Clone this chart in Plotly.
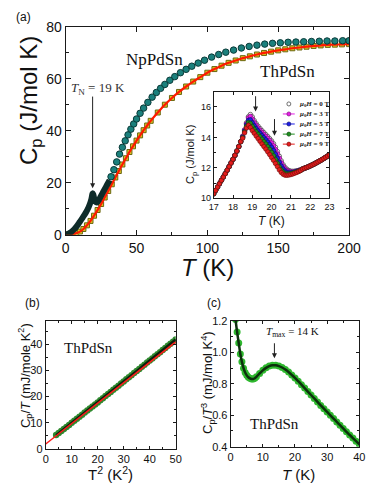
import plotly.graph_objects as go

SANS = "Arial, Liberation Sans, sans-serif"
SERIF = "Times New Roman, Liberation Serif, serif"

# ---- (a) Cp(T) of NpPdSn and ThPdSn
np_low_T = [0, 2, 4, 6, 8, 10, 12, 14, 16, 17, 18, 18.6, 19, 19.4, 20, 20.5, 21, 21.5,
            22, 22.5, 23, 24, 25, 26, 27, 28, 29, 30, 31]
np_low_cp = [0, 0.4, 1.1, 2.1, 3.4, 5.0, 6.6, 8.3, 10.4, 11.7, 13.4, 15.0, 15.9, 15.6, 14.2,
             13.3, 12.8, 12.5, 12.4, 12.6, 13.0, 14.0, 15.0, 16.0, 17.0, 18.0, 19.0, 20.0, 21.0]

np_T = [32, 34, 36, 38, 40, 42, 44, 46, 48, 50, 52.5, 55, 58, 61, 64, 67, 70, 73.5, 77, 81,
        85, 89, 93.5, 98, 103, 108, 113, 118.5, 124, 129.5, 135, 140.5, 146, 151.5, 157,
        162.5, 168, 173.5, 179, 184.5, 190, 195.5, 200]
np_cp = [22.3, 25.0, 28.0, 31.0, 33.6, 36.1, 38.4, 40.6, 42.6, 44.5, 46.7, 48.7, 50.9, 52.9,
         54.7, 56.3, 57.8, 59.4, 60.8, 62.3, 63.6, 64.8, 66.0, 67.1, 68.3, 69.3, 70.2, 71.0,
         71.8, 72.4, 72.9, 73.3, 73.6, 73.8, 74.0, 74.1, 74.2, 74.3, 74.4, 74.5, 74.5, 74.6, 74.6]

th_T = [0, 2.5, 5, 7.5, 10, 12.5, 15, 17.5, 20, 22.5, 25, 27.5, 30, 32.5, 35, 37.5, 40, 42.5,
        45, 47.5, 50, 52.5, 55, 57.5, 60, 65, 70, 75, 80, 85, 90, 95, 100, 105, 110, 115, 120,
        125, 130, 135, 140, 145, 150, 155, 160, 165, 170, 175, 180, 185, 190, 195, 200]
th_cp = [0, 0.05, 0.2, 0.6, 1.2, 2.2, 3.6, 5.3, 7.3, 9.5, 11.8, 14.3, 16.8, 19.4, 22.0, 24.5,
         27.0, 29.4, 31.8, 34.0, 36.2, 38.2, 40.2, 42.0, 43.8, 47.0, 50.0, 52.6, 54.9, 57.0,
         58.9, 60.6, 62.3, 63.7, 65.0, 66.1, 67.0, 67.9, 68.6, 69.3, 69.9, 70.4, 70.9, 71.3,
         71.7, 72.0, 72.3, 72.6, 72.8, 73.0, 73.1, 73.2, 73.3]

# ---- inset: Cp near T_N in fields
inset_T = [17.0, 17.1, 17.2, 17.3, 17.4, 17.5, 17.6, 17.7, 17.8, 17.9, 18.0, 18.1, 18.2, 18.3,
           18.4, 18.5, 18.6, 18.7, 18.8, 18.9, 19.0, 19.1, 19.2, 19.3, 19.4, 19.5, 19.6, 19.7,
           19.8, 19.9, 20.0, 20.1, 20.2, 20.3, 20.4, 20.5, 20.6, 20.7, 20.8, 20.9, 21.0, 21.1,
           21.2, 21.3, 21.4, 21.5, 21.6, 21.7, 21.8, 21.9, 22.0, 22.1, 22.2, 22.3, 22.4, 22.5,
           22.6, 22.7, 22.8, 22.9, 23.0]
rise = [10.30, 10.52, 10.74, 10.96, 11.18, 11.40, 11.62, 11.85, 12.08, 12.32, 12.56, 12.82,
        13.10, 13.40, 13.72]
tail = [11.92, 11.97, 12.02, 12.07, 12.13, 12.19, 12.25, 12.32, 12.39, 12.46, 12.53, 12.61,
        12.69, 12.77, 12.85]
mid_0T = [14.08, 14.50, 14.95, 15.35, 15.50, 15.34, 15.10, 14.90, 14.73, 14.58, 14.44, 14.31,
          14.18, 14.05, 13.91, 13.76, 13.58, 13.35, 13.07, 12.76, 12.46, 12.20, 12.02, 11.90,
          11.82, 11.78, 11.77, 11.78, 11.80, 11.83, 11.87]
mid_3T = [14.06, 14.47, 14.90, 15.28, 15.38, 15.20, 14.98, 14.79, 14.62, 14.47, 14.33, 14.20,
          14.07, 13.94, 13.80, 13.64, 13.45, 13.21, 12.93, 12.63, 12.34, 12.10, 11.93, 11.82,
          11.76, 11.73, 11.73, 11.75, 11.78, 11.82, 11.86]
mid_5T = [14.02, 14.42, 14.82, 15.12, 15.15, 14.96, 14.76, 14.58, 14.42, 14.27, 14.12, 13.98,
          13.84, 13.69, 13.53, 13.35, 13.14, 12.90, 12.64, 12.37, 12.12, 11.92, 11.78, 11.70,
          11.67, 11.67, 11.69, 11.72, 11.76, 11.80, 11.85]
mid_7T = [13.98, 14.36, 14.72, 14.97, 14.92, 14.72, 14.53, 14.36, 14.20, 14.04, 13.88, 13.72,
          13.56, 13.39, 13.21, 13.01, 12.79, 12.55, 12.30, 12.06, 11.86, 11.71, 11.63, 11.60,
          11.60, 11.62, 11.65, 11.69, 11.73, 11.78, 11.83]
mid_9T = [13.95, 14.30, 14.62, 14.80, 14.65, 14.45, 14.27, 14.09, 13.92, 13.74, 13.57, 13.40,
          13.23, 13.05, 12.87, 12.68, 12.49, 12.29, 12.08, 11.87, 11.70, 11.58, 11.52, 11.51,
          11.53, 11.56, 11.60, 11.65, 11.70, 11.76, 11.82]
fields = ["0", "3", "5", "7", "9"]
field_cp = [rise + mid_0T + tail, rise + mid_3T + tail, rise + mid_5T + tail,
            rise + mid_7T + tail, rise + mid_9T + tail]
field_fill = ["#ffffff", "#e51ee5", "#1c1ce8", "#1f8f1f", "#e51c1c"]
field_edge = ["#333333", "#7a107a", "#10106e", "#0f4a0f", "#7a0f0f"]

# ---- (b) Cp/T vs T^2
b_T2 = [4, 5, 6, 7, 8, 9, 10, 11, 12, 13, 14, 15, 16, 17, 18, 19, 20, 21, 22, 23, 24, 25, 26,
        27, 28, 29, 30, 31, 32, 33, 34, 35, 36, 37, 38, 39, 40, 41, 42, 43, 44, 45, 46, 47,
        48, 49, 50]
b_cpT = [5.3, 6.1, 6.9, 7.6, 8.4, 9.2, 10.0, 10.8, 11.6, 12.3, 13.1, 13.9, 14.7, 15.5, 16.2,
         17.0, 17.8, 18.6, 19.4, 20.2, 21.0, 21.8, 22.6, 23.4, 24.2, 25.0, 25.8, 26.6, 27.4,
         28.2, 29.0, 29.8, 30.6, 31.4, 32.2, 33.0, 33.8, 34.6, 35.4, 36.2, 37.0, 37.8, 38.6,
         39.4, 40.2, 41.0, 41.8]
b_fit_T2 = [0, 50]
b_fit = [1.9, 40.9]

# ---- (c) Cp/T^3 vs T
c_T = [1.5, 2.0, 2.5, 3.0, 3.5, 4.0, 4.5, 5.0, 5.5, 6.0, 6.5, 7.0, 7.5, 8.0, 9, 10, 11, 12, 13,
       14, 15, 16, 17, 18, 19, 20, 21, 22, 23, 24, 25, 26, 27, 28, 29, 30, 31, 32, 33, 34, 35,
       36, 37, 38, 39, 40]
c_val = [1.21, 1.13, 1.06, 0.99, 0.94, 0.90, 0.872, 0.854, 0.842, 0.835, 0.831, 0.831, 0.836,
         0.845, 0.866, 0.886, 0.902, 0.913, 0.918, 0.918, 0.913, 0.904, 0.891, 0.875, 0.857,
         0.838, 0.817, 0.795, 0.773, 0.751, 0.729, 0.707, 0.685, 0.663, 0.642, 0.621, 0.600,
         0.579, 0.558, 0.537, 0.516, 0.495, 0.475, 0.455, 0.435, 0.415]

fig = go.Figure()

# (a)
fig.add_trace(go.Scatter(x=th_T, y=th_cp, mode="markers", xaxis="x", yaxis="y",
                         marker=dict(symbol="square", size=5, color="#dcc420",
                                     line=dict(color="#6a6612", width=1))))
fig.add_trace(go.Scatter(x=th_T, y=th_cp, mode="lines", xaxis="x", yaxis="y",
                         line=dict(color="#ff1a00", width=2.2, shape="spline")))
fig.add_trace(go.Scatter(x=np_T, y=np_cp, mode="markers", xaxis="x", yaxis="y",
                         marker=dict(size=6.5, color="#1b807c",
                                     line=dict(color="#0b3a38", width=1))))
fig.add_trace(go.Scatter(x=np_low_T, y=np_low_cp, mode="lines", xaxis="x", yaxis="y",
                         line=dict(color="#0e2b29", width=6, shape="spline")))

# inset
for cp, fc, ec in zip(field_cp, field_fill, field_edge):
    fig.add_trace(go.Scatter(x=inset_T, y=cp, mode="markers", xaxis="x2", yaxis="y2",
                             marker=dict(size=4.5, color=fc, line=dict(color=ec, width=0.7))))

# (b)
fig.add_trace(go.Scatter(x=b_T2, y=b_cpT, mode="markers", xaxis="x3", yaxis="y3",
                         marker=dict(size=6.5, color="#2f8a2f", line=dict(width=0))))
fig.add_trace(go.Scatter(x=b_T2, y=b_cpT, mode="lines", xaxis="x3", yaxis="y3",
                         line=dict(color="#0c1f0c", width=2.5)))
fig.add_trace(go.Scatter(x=b_fit_T2, y=b_fit, mode="lines", xaxis="x3", yaxis="y3",
                         line=dict(color="#ff1a1a", width=1.5)))

# (c)
fig.add_trace(go.Scatter(x=c_T, y=c_val, mode="markers", xaxis="x4", yaxis="y4",
                         marker=dict(size=7, color="#2fb82f", line=dict(width=0))))
fig.add_trace(go.Scatter(x=c_T, y=c_val, mode="lines", xaxis="x4", yaxis="y4",
                         line=dict(color="#0d300d", width=2.5, shape="spline")))

frame = dict(showline=True, linecolor="#1a1a1a", linewidth=1, mirror="allticks",
             ticks="inside", tickcolor="#1a1a1a", showgrid=False, zeroline=False,
             automargin=False)

fig.update_layout(
    template="none",
    width=374, height=498, autosize=False, showlegend=False,
    margin=dict(l=0, r=0, t=0, b=0, pad=0),
    paper_bgcolor="white", plot_bgcolor="white",
    xaxis=dict(frame, domain=[0.1757, 0.9332], range=[0, 200], dtick=50, ticklen=5,
               minor=dict(ticks="inside", dtick=25, ticklen=3), anchor="y",
               tickfont=dict(family=SANS, size=14, color="#111")),
    yaxis=dict(frame, domain=[0.5287, 0.9464], range=[0, 80], dtick=20, ticklen=5,
               minor=dict(ticks="inside", dtick=10, ticklen=3), anchor="x",
               tickfont=dict(family=SANS, size=14, color="#111")),
    xaxis2=dict(frame, domain=[0.5714, 0.8810], range=[17, 23], dtick=1, ticklen=3,
                anchor="y2", tickfont=dict(family=SANS, size=9, color="#111")),
    yaxis2=dict(frame, domain=[0.6018, 0.8159], range=[10, 17], dtick=2, ticklen=3,
                minor=dict(ticks="inside", dtick=1, ticklen=2), anchor="x2",
                tickfont=dict(family=SANS, size=9, color="#111")),
    xaxis3=dict(frame, domain=[0.1222, 0.4698], range=[0, 50], dtick=10, ticklen=3,
                minor=dict(ticks="inside", dtick=5, ticklen=2), anchor="y3",
                tickfont=dict(family=SANS, size=11, color="#111")),
    yaxis3=dict(frame, domain=[0.0984, 0.3560], range=[0, 49], dtick=10, ticklen=3,
                minor=dict(ticks="inside", dtick=5, ticklen=2), anchor="x3",
                tickfont=dict(family=SANS, size=11, color="#111")),
    xaxis4=dict(frame, domain=[0.6168, 0.9607], range=[0, 40], dtick=10, ticklen=3,
                minor=dict(ticks="inside", dtick=5, ticklen=2), anchor="y4",
                tickfont=dict(family=SANS, size=11, color="#111")),
    yaxis4=dict(frame, domain=[0.1030, 0.3554], range=[0.4, 1.2], dtick=0.2, ticklen=3,
                minor=dict(ticks="inside", dtick=0.1, ticklen=2), anchor="x4",
                tickformat=".1f", tickfont=dict(family=SANS, size=11, color="#111")),
)

ann = []


def text(x, y, s, size, family=SANS, xref="paper", yref="paper", angle=0, color="#111"):
    ann.append(dict(x=x, y=y, xref=xref, yref=yref, text=s, showarrow=False, textangle=angle,
                    xanchor="center", yanchor="middle",
                    font=dict(family=family, size=size, color=color)))


def arrow(x, y0, y1, xr, yr):
    ann.append(dict(x=x, y=y1, ax=x, ay=y0, xref=xr, yref=yr, axref=xr, ayref=yr, text="",
                    showarrow=True, arrowhead=2, arrowsize=1, arrowwidth=1, arrowcolor="#222"))


# panel letters
text(0.062, 0.966, "(a)", 12)
text(0.086, 0.392, "(b)", 12)
text(0.572, 0.392, "(c)", 12)

# axis titles
text(0.080, 0.799, "C<sub>p</sub> (J/mol K)", 24, angle=-90)
text(0.556, 0.462, "<i>T</i> (K)", 24)
text(0.511, 0.689, "C<sub>p</sub> (J/mol K)", 11, angle=-90)
text(0.727, 0.557, "<i>T</i> (K)", 12)
text(0.067, 0.245, "C<sub>p</sub>/<i>T</i> (mJ/mole K<sup>2</sup>)", 13, angle=-90)
text(0.296, 0.050, "T<sup>2</sup> (K<sup>2</sup>)", 15)
text(0.556, 0.233, "C<sub>p</sub>/<i>T</i><sup>3</sup> (mJ/mol K<sup>4</sup>)", 13, angle=-90)
text(0.797, 0.048, "<i>T</i> (K)", 15)

# labels in (a)
text(63, 67.2, "NpPdSn", 17, SERIF, "x", "y")
text(156.6, 62.7, "ThPdSn", 17, SERIF, "x", "y")
text(22.8, 56.4, "<i>T</i><sub>N</sub> = 19 K", 13, SERIF, "x", "y", color="#333")
arrow(19, 53.7, 17.9, "x", "y")

# inset arrows
arrow(19.17, 16.8, 15.7, "x2", "y2")
arrow(20.15, 15.3, 14.1, "x2", "y2")

# (b), (c) labels
text(16.6, 38.6, "ThPdSn", 15, SERIF, "x3", "y3")
text(13.5, 0.545, "ThPdSn", 15, SERIF, "x4", "y4")
text(19.2, 1.132, "<i>T</i><sub>max</sub> = 14 K", 11, SERIF, "x4", "y4")
arrow(13.6, 1.068, 0.963, "x4", "y4")

# inset legend (drawn keys inside the inset frame)
shapes = []
row_y = [0.885, 0.791, 0.697, 0.602, 0.508]
for i, (f, fc, ec) in enumerate(zip(fields, field_fill, field_edge)):
    yc = row_y[i]
    if i > 0:
        shapes.append(dict(type="line", xref="x2 domain", yref="y2 domain", x0=0.597, x1=0.700,
                           y0=yc, y1=yc, line=dict(color=fc, width=1)))
    shapes.append(dict(type="circle", xref="x2 domain", yref="y2 domain",
                       x0=0.649 - 0.017, x1=0.649 + 0.017, y0=yc - 0.019, y1=yc + 0.019,
                       fillcolor=fc, line=dict(color=ec, width=0.7)))
    ann.append(dict(x=0.717, y=yc, xref="x2 domain", yref="y2 domain", xanchor="left",
                    yanchor="middle",
                    text="<b><i>μ</i><sub>0</sub><i>H</i> = " + f + " T</b>", showarrow=False,
                    font=dict(family=SERIF, size=7, color="#222")))

fig.update_layout(annotations=ann, shapes=shapes)

fig.write_html("out.html", config={"displayModeBar": False},
               post_script="document.body.style.margin='0';")
